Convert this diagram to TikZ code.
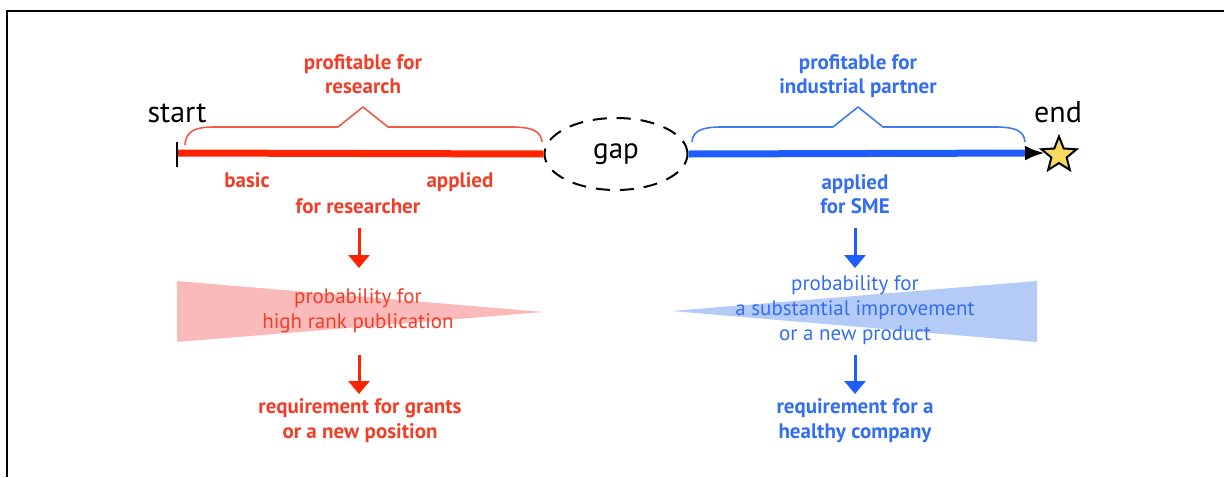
\documentclass[tikz,border=0pt]{standalone}
\usepackage{fontspec}
\setmainfont{PT Sans}
\usetikzlibrary{arrows.meta,shapes.geometric}
\definecolor{rline}{HTML}{FF2400}
\definecolor{rtext}{HTML}{F23E28}
\definecolor{rbrace}{HTML}{F25A44}
\definecolor{rfill}{HTML}{FBBABA}
\definecolor{bline}{HTML}{1E5EFF}
\definecolor{btext}{HTML}{336EF2}
\definecolor{bbrace}{HTML}{3D7CF2}
\definecolor{bfill}{HTML}{B4CBF8}
\definecolor{staryellow}{HTML}{F8DA5E}
\tikzset{
  lbl/.style={inner sep=0pt, anchor=base, font=\bfseries\fontsize{21}{24}\selectfont},
  lblplain/.style={inner sep=0pt, anchor=base, font=\fontsize{21}{24}\selectfont},
  bigword/.style={inner sep=0pt, anchor=base, font=\fontsize{30}{34}\selectfont, text=black},
  axis/.style={line width=7pt},
  bracepath/.style={line width=1.6pt, line join=round},
  downarrow/.style={line width=3pt, -{Triangle[length=13pt,width=21pt]}},
}
\begin{document}
\begin{tikzpicture}[x=1pt,y=-1pt]
\useasboundingbox (0,0) rectangle (1224,477);
% frame
\draw[line width=2.5pt] (7,477) -- (7,11) -- (1224,11);

% gap ellipse and the two axes
\node[draw, ellipse, line width=2pt, dash pattern=on 14pt off 10pt,
      minimum width=143pt, minimum height=72pt, inner sep=0pt,
      font=\fontsize{29}{32}\selectfont] (gap) at (616,154) {gap};
\coordinate (s) at (178,153);
\coordinate (tipend) at (1045,153);
\draw[rline, axis] (s) -- (gap.west);
\draw[line width=2.5pt] (177,142) -- (177,167);
\draw[bline, axis, -{Latex[length=20pt,width=15pt,color=black]}] (gap.east) -- (tipend);
\node[star, star points=5, star point ratio=2.3, minimum size=37pt, inner sep=0pt,
      draw=black, line width=2pt, fill=staryellow] (star) at (1059,155) {};

\node[bigword] (start) at (177,122) {start};
\node[bigword] (end) at (1058,122) {end};

% braces
\draw[rbrace, bracepath] (185,145) .. controls (186,130) and (196,127) .. (215,127)
  -- (338,127) -- (363,107) -- (388,127) -- (511,127)
  .. controls (530,127) and (541,130) .. (542,142);
\draw[bbrace, bracepath] (692,142) .. controls (693,130) and (703,127) .. (722,127)
  -- (833,127) -- (858,107) -- (883,127) -- (995,127)
  .. controls (1014,127) and (1024,130) .. (1025,142);

% left column
\node[lbl, text=rtext] (pr1) at (363,69) {profitable for};
\node[lbl, text=rtext] (pr2) at (363,93) {research};
\node[lbl, text=rtext] (basic) at (247,187) {basic};
\node[lbl, text=rtext] (appl) at (460,187) {applied};
\node[lbl, text=rtext] (forres) at (358,213) {for researcher};
\fill[rfill] (177,281) -- (543,312) -- (177,342) -- cycle;
\node[lblplain, text=rtext] (hr1) at (358,303) {probability for};
\node[lblplain, text=rtext] (hr2) at (358,328) {high rank publication};
\node[lbl, text=rtext] (rq1) at (360,413) {requirement for grants};
\node[lbl, text=rtext] (rq2) at (360,438) {or a new position};
\coordinate (ra1) at (359,228);
\coordinate (ra2) at (359,268);
\coordinate (ra3) at (359,355);
\coordinate (ra4) at (359,394);
\draw[rline, downarrow] (ra1) -- (ra2);
\draw[rline, downarrow] (ra3) -- (ra4);

% right column
\node[lbl, text=btext] (pi1) at (858,69) {profitable for};
\node[lbl, text=btext] (pi2) at (858,93) {industrial partner};
\node[lbl, text=btext] (sme1) at (855,189) {applied};
\node[lbl, text=btext] (sme2) at (855,213) {for SME};
\fill[bfill] (672,311) -- (1037,281) -- (1037,342) -- cycle;
\node[lblplain, text=btext] (im1) at (855,290) {probability for};
\node[lblplain, text=btext] (im2) at (855,315) {a substantial improvement};
\node[lblplain, text=btext] (im3) at (855,340) {or a new product};
\node[lbl, text=btext] (hc1) at (855,413) {requirement for a};
\node[lbl, text=btext] (hc2) at (855,438) {healthy company};
\coordinate (ba1) at (855,228);
\coordinate (ba2) at (855,268);
\coordinate (ba3) at (855,355);
\coordinate (ba4) at (855,394);
\draw[bline, downarrow] (ba1) -- (ba2);
\draw[bline, downarrow] (ba3) -- (ba4);
\end{tikzpicture}
\end{document}
